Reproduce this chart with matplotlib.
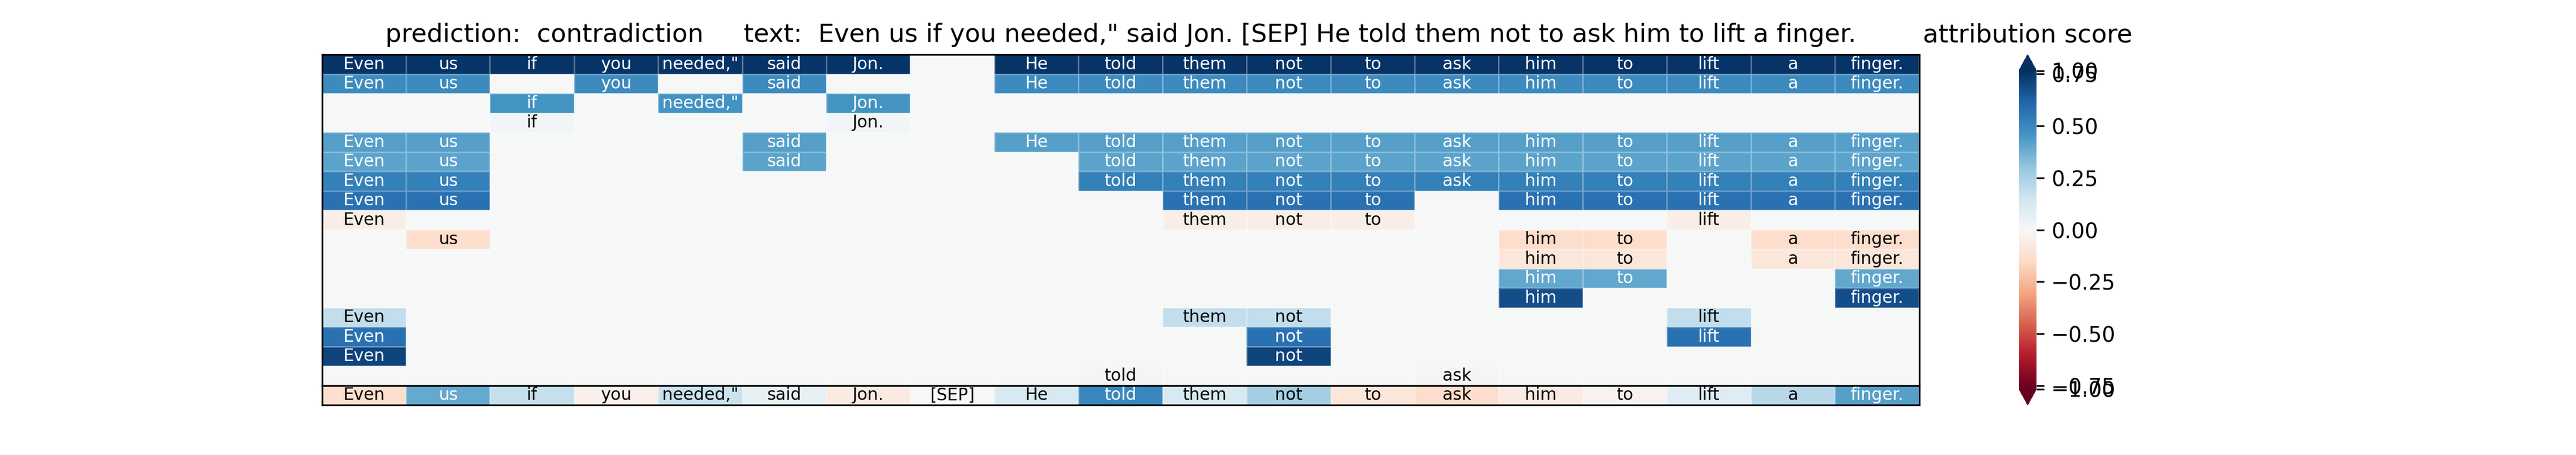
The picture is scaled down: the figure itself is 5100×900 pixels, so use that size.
import numpy as np
import matplotlib
matplotlib.use('Agg')
import matplotlib.pyplot as plt
from matplotlib.colors import Normalize


# tokens of the premise/hypothesis pair
tokens = ['Even', 'us', 'if', 'you', 'needed,"', 'said', 'Jon.', '[SEP]', 'He', 'told',
          'them', 'not', 'to', 'ask', 'him', 'to', 'lift', 'a', 'finger.']

# one score per coalition row, plus the tokens (by index) that belong to that row
row_scores = [0.75, 0.49, 0.46, 0.02, 0.42, 0.41, 0.52, 0.57, -0.05,
              -0.14, -0.09, 0.40, 0.68, 0.19, 0.57, 0.71, -0.01]
row_tokens = [
    [0, 1, 2, 3, 4, 5, 6, 8, 9, 10, 11, 12, 13, 14, 15, 16, 17, 18],
    [0, 1, 3, 5, 8, 9, 10, 11, 12, 13, 14, 15, 16, 17, 18],
    [2, 4, 6],
    [2, 6],
    [0, 1, 5, 8, 9, 10, 11, 12, 13, 14, 15, 16, 17, 18],
    [0, 1, 5, 9, 10, 11, 12, 13, 14, 15, 16, 17, 18],
    [0, 1, 9, 10, 11, 12, 13, 14, 15, 16, 17, 18],
    [0, 1, 10, 11, 12, 14, 15, 16, 17, 18],
    [0, 10, 11, 12, 16],
    [1, 14, 15, 17, 18],
    [14, 15, 17, 18],
    [14, 15, 18],
    [14, 18],
    [0, 10, 11, 16],
    [0, 11, 16],
    [0, 11],
    [9, 13],
]

# per-token attribution (bottom strip)
token_scores = [-0.13, 0.39, 0.18, -0.04, 0.17, 0.06, -0.07, 0.0, 0.12, 0.50,
                0.12, 0.26, -0.09, -0.14, -0.06, -0.03, 0.09, 0.21, 0.42]

prediction = 'contradiction'
vmax = 0.765


def text_color(rgba):
    # same rule seaborn uses for annotations
    rgb = np.array(rgba[:3])
    rgb = np.where(rgb <= .03928, rgb / 12.92, ((rgb + .055) / 1.055) ** 2.4)
    lum = rgb.dot([.2126, .7152, .0722])
    return 'black' if lum > .408 else 'white'


n_rows = len(row_scores)
n_cols = len(tokens)
M = np.zeros((n_rows, n_cols))
labels = np.full((n_rows, n_cols), '', dtype=object)
for i, (s, idx) in enumerate(zip(row_scores, row_tokens)):
    for j in idx:
        M[i, j] = s
        labels[i, j] = tokens[j]

cmap = plt.get_cmap('RdBu')
norm = Normalize(vmin=-vmax, vmax=vmax)

fig, (ax1, ax2) = plt.subplots(2, 1, figsize=(17, 3), dpi=300,
                               gridspec_kw={'height_ratios': [n_rows, 1], 'hspace': 0})

mesh = ax1.pcolormesh(M, cmap=cmap, norm=norm, edgecolors=(1, 1, 1, 0.25), linewidth=0.3)
for i in range(n_rows):
    for j in range(n_cols):
        if labels[i, j]:
            ax1.text(j + 0.5, i + 0.5, labels[i, j], ha='center', va='center', fontsize=8,
                     color=text_color(cmap(norm(M[i, j]))))
ax1.set_xlim(0, n_cols)
ax1.set_ylim(n_rows, 0)
ax1.set_xticks([])
ax1.set_yticks([])

B = np.array([token_scores])
ax2.pcolormesh(B, cmap=cmap, norm=norm, edgecolors=(1, 1, 1, 0.25), linewidth=0.3)
for j, t in enumerate(tokens):
    ax2.text(j + 0.5, 0.5, t, ha='center', va='center', fontsize=8,
             color=text_color(cmap(norm(token_scores[j]))))
ax2.set_xlim(0, n_cols)
ax2.set_ylim(1, 0)
ax2.set_xticks([])
ax2.set_yticks([])

ax1.set_title('prediction:  {0}     text:  {1}'.format(prediction, ' '.join(tokens)))

cbar = fig.colorbar(mesh, ax=[ax1, ax2], extend='both')
ticks = [-vmax, -0.75, -0.5, -0.25, 0, 0.25, 0.5, 0.75, vmax]
tick_labels = ['\u22121.00', '\u22120.75', '\u22120.50', '\u22120.25', '0.00',
               '0.25', '0.50', '0.75', '1.00']
cbar.set_ticks(ticks, labels=tick_labels)
cbar.outline.set_visible(False)
cbar.ax.set_title('attribution score')

fig.savefig('out.png', dpi=300)
